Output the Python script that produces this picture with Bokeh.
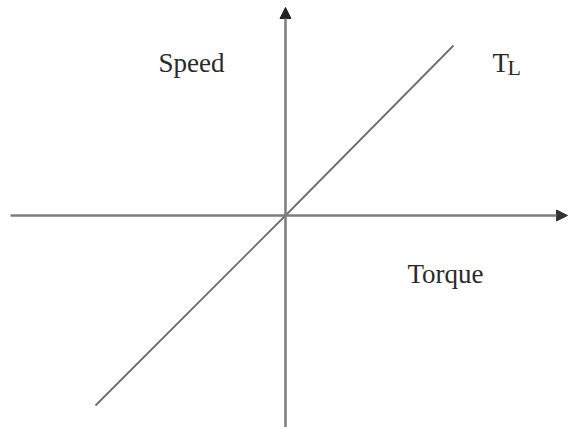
from bokeh.plotting import figure
from bokeh.models import Arrow, NormalHead, ColumnDataSource, Range1d
from bokeh.core.properties import value
from bokeh.embed import file_html
from bokeh.resources import INLINE

# Data (units: torque on x, speed on y; origin at the axes' crossing)
torque_axis = [-275, 282]          # horizontal (torque) axis extent
speed_axis = [-212, 208]           # vertical (speed) axis extent
load_torque = [-190, 0, 168]       # load line T_L: torque values
load_speed = [-190, 0, 170]        # load line T_L: speed values

label_text = ["Speed", "Torque", "T"]
label_x = [-127, 122, 207]
label_y = [153, -58, 153]
sub_text = ["L"]
sub_x = [222]
sub_y = [148]

W, H = 569, 427
p = figure(width=W, height=H, output_backend="svg", toolbar_location=None,
           x_range=Range1d(-285, 284), y_range=Range1d(-212, 215),
           x_axis_type=None, y_axis_type=None, min_border=0)
p.grid.visible = False
p.outline_line_color = None
p.background_fill_color = "white"
p.border_fill_color = "white"

axis_col = "#7c7c7c"
# Horizontal axis with arrow
p.add_layout(Arrow(x_start=torque_axis[0], y_start=0, x_end=torque_axis[1], y_end=0,
                   line_color=axis_col, line_width=2.5,
                   end=NormalHead(size=11, fill_color="#333333", line_color="#333333", line_width=1)))
# Vertical axis with arrow
p.add_layout(Arrow(x_start=0, y_start=speed_axis[0], x_end=0, y_end=speed_axis[1],
                   line_color=axis_col, line_width=2.5,
                   end=NormalHead(size=11, fill_color="#222222", line_color="#222222", line_width=1)))

# Load line
p.line(load_torque, load_speed, line_color="#6e6e6e", line_width=1.8)

src = ColumnDataSource(dict(x=label_x, y=label_y, t=label_text))
p.text(x="x", y="y", text="t", source=src, text_font=value("Liberation Serif"),
       text_font_size="27px", text_color="#2a2a2a", text_baseline="alphabetic",
       text_align="left")
src2 = ColumnDataSource(dict(x=sub_x, y=sub_y, t=sub_text))
p.text(x="x", y="y", text="t", source=src2, text_font=value("Liberation Serif"),
       text_font_size="22px", text_color="#2a2a2a", text_baseline="alphabetic",
       text_align="left")

open("out.html", "w").write(file_html(p, INLINE))
